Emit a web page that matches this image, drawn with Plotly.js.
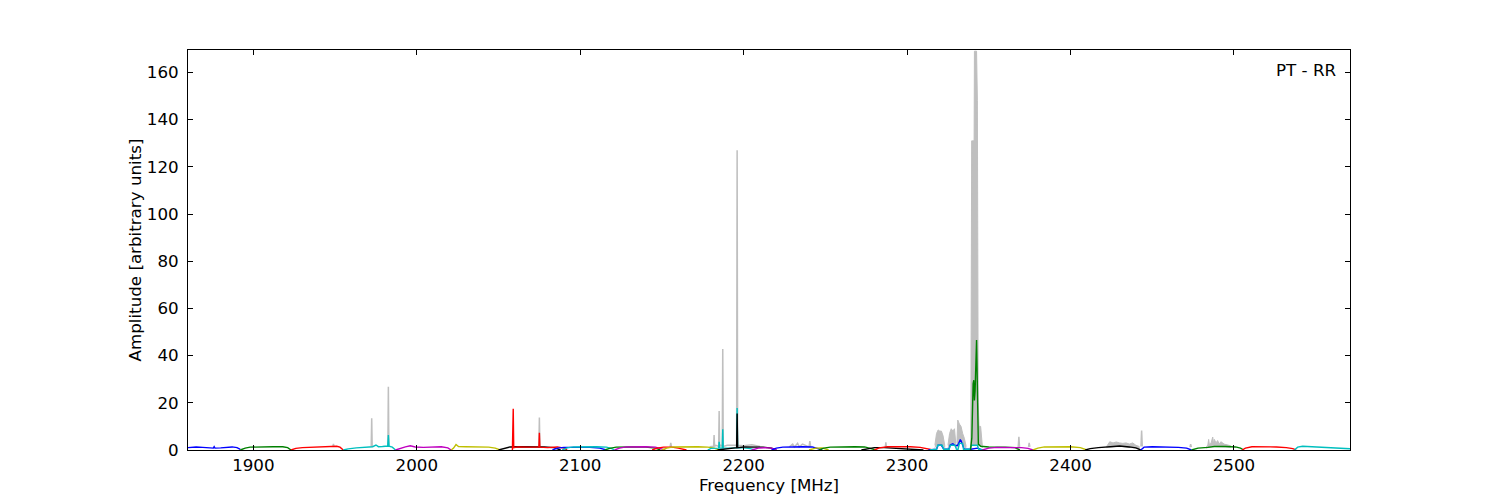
<!DOCTYPE html>
<html>
<head>
<meta charset="utf-8">
<script src="https://cdn.plot.ly/plotly-3.0.1.min.js"></script>
<style>html,body{margin:0;padding:0;background:#fff;}#chart{width:1500px;height:500px;}</style>
</head>
<body>
<div id="chart"></div>
<script>
// ---- data ----
// raw spectrum (grey) isolated spikes, groups separated by null
const grayFreq = [
  1948.6,1949,1949.4,null,
  1972.1,1972.4,1972.7,null,
  1982.3,1982.6,1982.9,null,
  2074.7,2075,2075.3,null,
  2155,2155.4,2155.8,null,
  2179,2180,2181.6,2181.9,2182.2,2183,2184.7,2185,2185.3,2186,2186.9,2187.2,2187.5,2190,2195.7,2196,2196.3,2200,2205,2207,2210,null,
  2228,2230,2231,2233,2234,2236,2240,2240.5,2241,null,
  2286.7,2287,2287.3,null,
  2368,2368.4,2368.8,null,
  2374.3,2374.7,2375.1,null,
  2443.1,2443.5,2443.9,null,
  2473.1,2473.5,2473.9
];
const grayAmp = [
  1.3,2.6,1.3,null,
  1.3,13.4,1.3,null,
  1.5,26.8,1.5,null,
  1.3,13.8,1.3,null,
  1.3,3.0,1.3,null,
  1.0,1.5,1.5,6.3,1.5,2.0,1.5,16.5,1.5,2.0,1.5,42.8,1.5,2.0,2.0,127,2.0,1.8,2.2,1.8,1.5,null,
  1.3,2.5,1.3,2.8,1.3,2.5,1.3,3.8,1.3,null,
  1.3,3.2,1.3,null,
  1.3,5.6,1.3,null,
  1.3,3.0,1.3,null,
  1.5,8.2,1.5,null,
  1.2,2.5,1.2
];
// dense noisy bursts of the raw spectrum: envelope (upper / lower)
const burstFreq = [
  [2317,2318,2319,2320,2321,2322,2323],
  [2325,2326,2327,2328,2329,2330],
  [2330.5,2331,2332,2333,2334,2335,2336],
  [2339,2339.5,2340,2341,2341.2,2342.5,2343,2343.5,2344,2345,2346],
  [2422,2424,2426,2428,2430,2432,2434,2436,2438,2440,2442],
  [2483,2484,2484.5,2485,2486,2487,2487.5,2488,2489,2490,2491,2492,2494,2496,2498]
];
const burstHi = [
  [2,7,8.5,8,8,6,2],
  [2,7,9,8,9,3],
  [3,12.7,11,10,7,5,2],
  [2,131,131,131,169,169,148,20,10,10,2],
  [1.4,3.5,3.0,3.4,3.0,2.8,3.0,2.5,3.0,2.0,1.5],
  [1.4,2.0,4.5,2.0,3.0,5.5,2.5,4.5,3.0,4.0,2.5,3.5,2.5,2.2,1.8]
];
const burstLo = [
  [1,2,2.2,2.2,2.2,2,1],
  [1,2,2.2,2.6,2.2,1],
  [1,2,2.2,4.3,2.2,1.5,1],
  [1,2,2,2,2,2,2,2,2,2,1],
  [1.0,1.2,1.3,1.4,1.6,1.5,1.3,1.2,1.0,0.8,0.6],
  [0.8,1.0,1.1,1.3,1.4,1.5,1.5,1.5,1.5,1.5,1.5,1.5,1.4,1.3,1.2]
];

// per-channel smoothed spectra
const segFreqs = [
  [1860,1862,1865,1869,1873,1875.5,1876,1876.5,1880,1884,1887,1890,1892],
  [1892,1895,1898,1905,1912,1918,1921,1923],
  [1923,1926,1930,1937,1944,1949,1951,1953,1955],
  [1955,1958,1963,1969,1973,1975,1976.5,1979,1982.2,1982.6,1983,1985,1987],
  [1987,1990,1993,1996,1999,2004,2010,2015,2019,2021],
  [2021,2022.5,2024,2025.5,2030,2038,2044,2048,2051],
  [2050,2053,2057,2063,2070,2078,2084,2088],
  [2058.5,2059,2059.3,2062,2068,2074.7,2075,2075.3,2080,2086,2090,2092],
  [2083,2086,2090,2095,2100,2106,2112,2116],
  [2089,2092,2096,2103,2110,2116,2119,2121],
  [2115,2118,2122,2126,2132,2140,2146,2149],
  [2121,2124,2128,2134,2140,2146,2150,2152],
  [2144,2147,2151,2156,2160,2165],
  [2150,2153,2157,2165,2172,2178,2182,2185],
  [2178,2180,2184.7,2185,2185.3,2186.9,2187.2,2187.5,2190,2195.7,2196,2196.3,2200,2204,2207],
  [2184,2188,2192,2195.7,2196,2196.3,2200,2206,2212,2217,2220],
  [2205,2209,2213,2217,2220],
  [2217,2220,2224,2230,2236,2242,2245,2248],
  [2240,2244,2248,2252],
  [2246,2249,2253,2260,2268,2274,2278,2281],
  [2272,2276,2280,2286,2292,2300,2306,2310],
  [2280,2283,2288,2295,2302,2308,2312,2316],
  [2313,2316,2318,2319,2321,2322.5,2324,2325.5,2326.5,2328,2329.5,2331,2332.5,2333,2334,2335,2337,2339,2343,2346],
  [2314,2316,2318,2318.7,2321.5,2322.3,2325.7,2326.5,2329.3,2330.2,2331.2,2332,2334,2334.5,2338.5,2339.3,2343,2343.8,2347],
  [2338.8,2339.6,2340.4,2340.8,2341.2,2341.6,2342.5,2343.0,2343.6,2345,2350,2360,2366,2369],
  [2346,2350,2355,2362,2370,2374,2377],
  [2377,2380,2384,2392,2400,2406,2410],
  [2409,2412,2417,2424,2430,2436,2440,2443],
  [2443,2445,2450,2458,2466,2471,2474],
  [2474,2478,2484,2488,2495,2501,2504,2506],
  [2505,2507,2511,2518,2526,2532,2536,2538],
  [2537,2539,2542,2548,2556,2564,2571]
];
const segAmps = [
  [1.0,1.2,1.3,1.1,0.8,0.8,1.4,0.8,0.9,1.3,1.3,1.0,0.3],
  [0,0.8,1.2,1.4,1.4,1.4,1.0,0],
  [0,0.7,1.0,1.2,1.3,1.4,1.6,1.2,0],
  [0,0.5,0.9,1.1,1.4,2.1,1.4,1.5,1.7,6.3,1.6,1.2,0],
  [0,0.8,1.3,1.8,1.3,1.1,1.2,1.4,0.9,0],
  [0,0.8,2.3,1.5,1.4,1.3,1.2,0.8,0],
  [0,0.7,1.3,1.4,1.5,1.3,1.0,0],
  [0,17.5,1.0,1.3,1.2,1.2,7.3,1.2,1.0,1.3,0.8,0],
  [0,0.8,1.1,1.2,1.2,1.1,0.8,0],
  [0,0.9,1.3,1.4,1.4,1.2,0.7,0],
  [0,0.7,1.2,1.3,1.3,1.2,0.8,0],
  [0,0.8,1.3,1.4,1.4,1.2,0.6,0],
  [0,0.8,1.2,1.2,0.8,0],
  [0,0.8,1.3,1.4,1.4,1.2,0.8,0],
  [0,0.7,0.8,3.5,0.8,0.8,8.8,0.8,0.8,0.9,17.8,0.9,0.9,0.6,0],
  [0,0.3,0.8,1.0,15.5,1.0,1.3,1.3,1.2,0.8,0],
  [0,0.8,1.0,0.8,0],
  [0,0.8,1.2,1.4,1.4,1.3,0.8,0],
  [0,0.8,0.9,0],
  [0,0.8,1.2,1.4,1.4,1.3,0.7,0],
  [0,0.6,1.0,1.0,0.8,0.6,0.4,0],
  [0,0.9,1.4,1.5,1.4,1.1,0.6,0],
  [0,0.3,0.3,2.0,2.0,0.3,0.3,0.3,2.2,2.6,1.8,2.0,4.3,4.0,2.0,0.3,0.3,0.3,0.8,0],
  [0,0.3,0.3,2.0,2.0,0.3,0.3,2.0,2.0,0.3,0.3,2.8,2.8,0.3,0.3,2.0,2.0,0.3,0],
  [0,5,28,29.6,21,25,46.6,30,2.5,1.6,1.3,1.2,1.0,0],
  [0,0.8,1.1,1.2,1.0,0.7,0],
  [0,0.8,1.3,1.4,1.4,1.0,0],
  [0,0.6,1.0,1.3,1.7,1.3,0.9,0],
  [0,1.2,1.4,1.3,1.1,0.8,0],
  [0,0.8,1.1,1.5,1.5,1.3,0.8,0],
  [0,0.8,1.4,1.4,1.3,1.0,0.6,0],
  [0,1.2,1.6,1.4,1.3,1.0,0.5]
];
const segColorKeys = ['b','g','r','c','m','y','k','r','b','c','g','m','r','y','c','k','m','b','y','g','k','r','b','c','g','m','y','k','b','g','r','c'];

const xTicks = [1900,2000,2100,2200,2300,2400,2500];
const yTicks = [0,20,40,60,80,100,120,140,160];
const panelLabel = 'PT - RR';

// ---- style ----
const palette = {b:'#0000ff', g:'#008000', r:'#ff0000', c:'#00bfbf', m:'#bf00bf', y:'#bfbf00', k:'#000000'};
const FONT = 'DejaVu Sans, Liberation Sans, sans-serif';
const FS = 16.7;
const GREY = '#bfbfbf';

const traces = [];
burstFreq.forEach((f, i) => {
  traces.push({
    x: f.concat(f.slice().reverse()),
    y: burstHi[i].concat(burstLo[i].slice().reverse()),
    type: 'scatter', mode: 'lines', fill: 'toself',
    fillcolor: GREY, line: {color: GREY, width: 1}, hoverinfo: 'skip'
  });
});
traces.push({
  x: grayFreq, y: grayAmp, type: 'scatter', mode: 'lines',
  line: {color: GREY, width: 1.5}, connectgaps: false, hoverinfo: 'skip'
});
segFreqs.forEach((f, i) => {
  traces.push({
    x: f, y: segAmps[i], type: 'scatter', mode: 'lines',
    line: {color: palette[segColorKeys[i]], width: 1.4}, hoverinfo: 'skip'
  });
});

const axisCommon = {
  showline: true, linecolor: '#000', linewidth: 1, mirror: 'ticks',
  ticks: 'inside', ticklen: 5, tickwidth: 1, tickcolor: '#000',
  showgrid: false, zeroline: false,
  tickfont: {family: FONT, size: FS, color: '#000'}
};

const layout = {
  width: 1500, height: 500,
  margin: {l: 188, r: 150, t: 50, b: 50, pad: 0},
  paper_bgcolor: '#fff', plot_bgcolor: '#fff',
  showlegend: false, hovermode: false,
  font: {family: FONT, size: FS, color: '#000'},
  xaxis: Object.assign({}, axisCommon, {
    range: [1860, 2571], tickmode: 'array', tickvals: xTicks,
    ticktext: xTicks.map(String),
    title: {text: 'Frequency [MHz]', font: {family: FONT, size: FS, color: '#000'}, standoff: 2}
  }),
  yaxis: Object.assign({}, axisCommon, {
    range: [0, 169.5], tickmode: 'array', tickvals: yTicks,
    ticktext: yTicks.map(String), ticklabelstandoff: 5,
    title: {text: 'Amplitude [arbitrary units]', font: {family: FONT, size: FS, color: '#000'}, standoff: 0}
  }),
  annotations: [{
    text: panelLabel, xref: 'paper', yref: 'paper', x: 0.990, y: 0.95,
    xanchor: 'right', yanchor: 'middle', showarrow: false,
    font: {family: FONT, size: FS, color: '#000'}
  }]
};

Plotly.newPlot('chart', traces, layout, {staticPlot: true, displayModeBar: false});
</script>
</body>
</html>
